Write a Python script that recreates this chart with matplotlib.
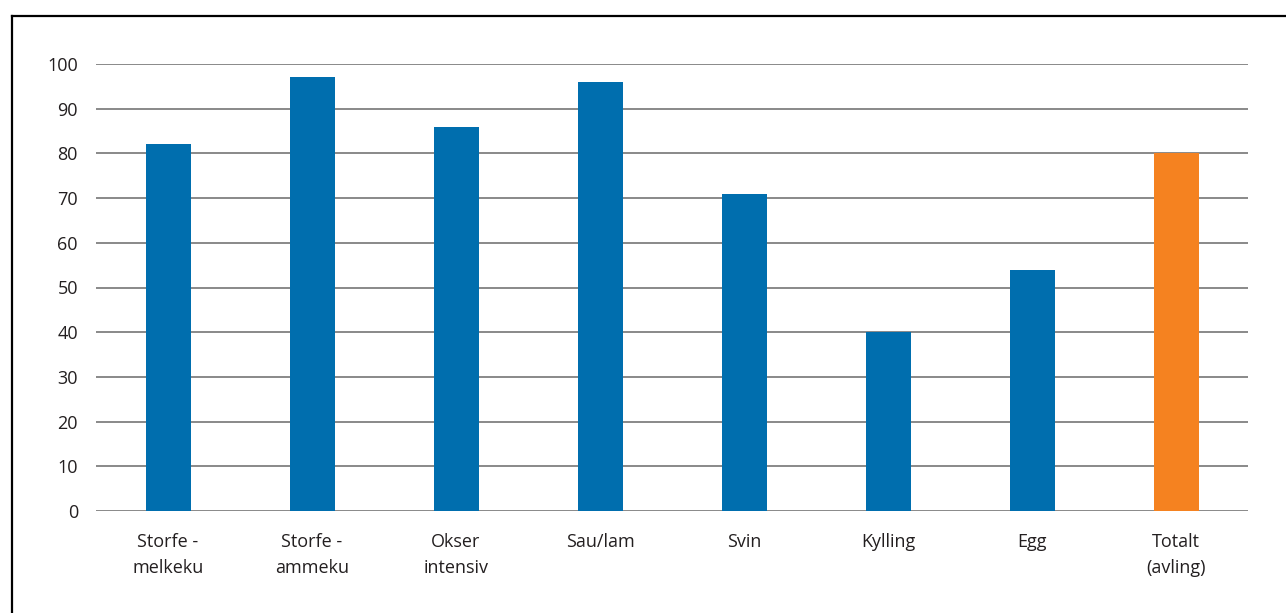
import matplotlib
matplotlib.use("Agg")
import matplotlib.pyplot as plt
from matplotlib.lines import Line2D

categories = ["Storfe -\nmelkeku", "Storfe -\nammeku", "Okser\nintensiv", "Sau/lam",
              "Svin", "Kylling", "Egg", "Totalt\n(avling)"]
values = [82, 97, 86, 96, 71, 40, 54, 80]
colors = ["#006eae"] * 7 + ["#f58220"]
yticks = list(range(0, 101, 10))

plt.rcParams['font.family'] = ['Open Sans', 'DejaVu Sans']

W, H = 1286, 613
fig = plt.figure(figsize=(W / 100, H / 100), dpi=100)
ax = fig.add_axes([96 / W, 1 - 511 / H, (1248 - 96) / W, (511 - 64) / H])

x = list(range(len(categories)))
ax.bar(x, values, width=0.3125, color=colors, zorder=3)
ax.set_xlim(-0.5, len(categories) - 0.5)
ax.set_ylim(0, 100)
ax.set_yticks(yticks)
ax.set_yticklabels([str(t) for t in yticks], fontsize=13, color="#231f20")
ax.set_xticks(x)
ax.set_xticklabels(categories, fontsize=13, color="#231f20", linespacing=1.55)
ax.tick_params(axis='both', length=0)
ax.tick_params(axis='y', pad=13)
ax.tick_params(axis='x', pad=16)
for s in ax.spines.values():
    s.set_visible(False)
ax.grid(axis='y', color="#808080", linewidth=1.3, zorder=0)
ax.set_axisbelow(True)

# frame (left and top edges)
fig.add_artist(Line2D([11.5 / W, 11.5 / W], [0, 1 - 15.5 / H], transform=fig.transFigure,
                      color="black", linewidth=1.6))
fig.add_artist(Line2D([11.5 / W, 1], [1 - 15.5 / H, 1 - 15.5 / H], transform=fig.transFigure,
                      color="black", linewidth=1.6))

fig.savefig("out.png", dpi=100)
